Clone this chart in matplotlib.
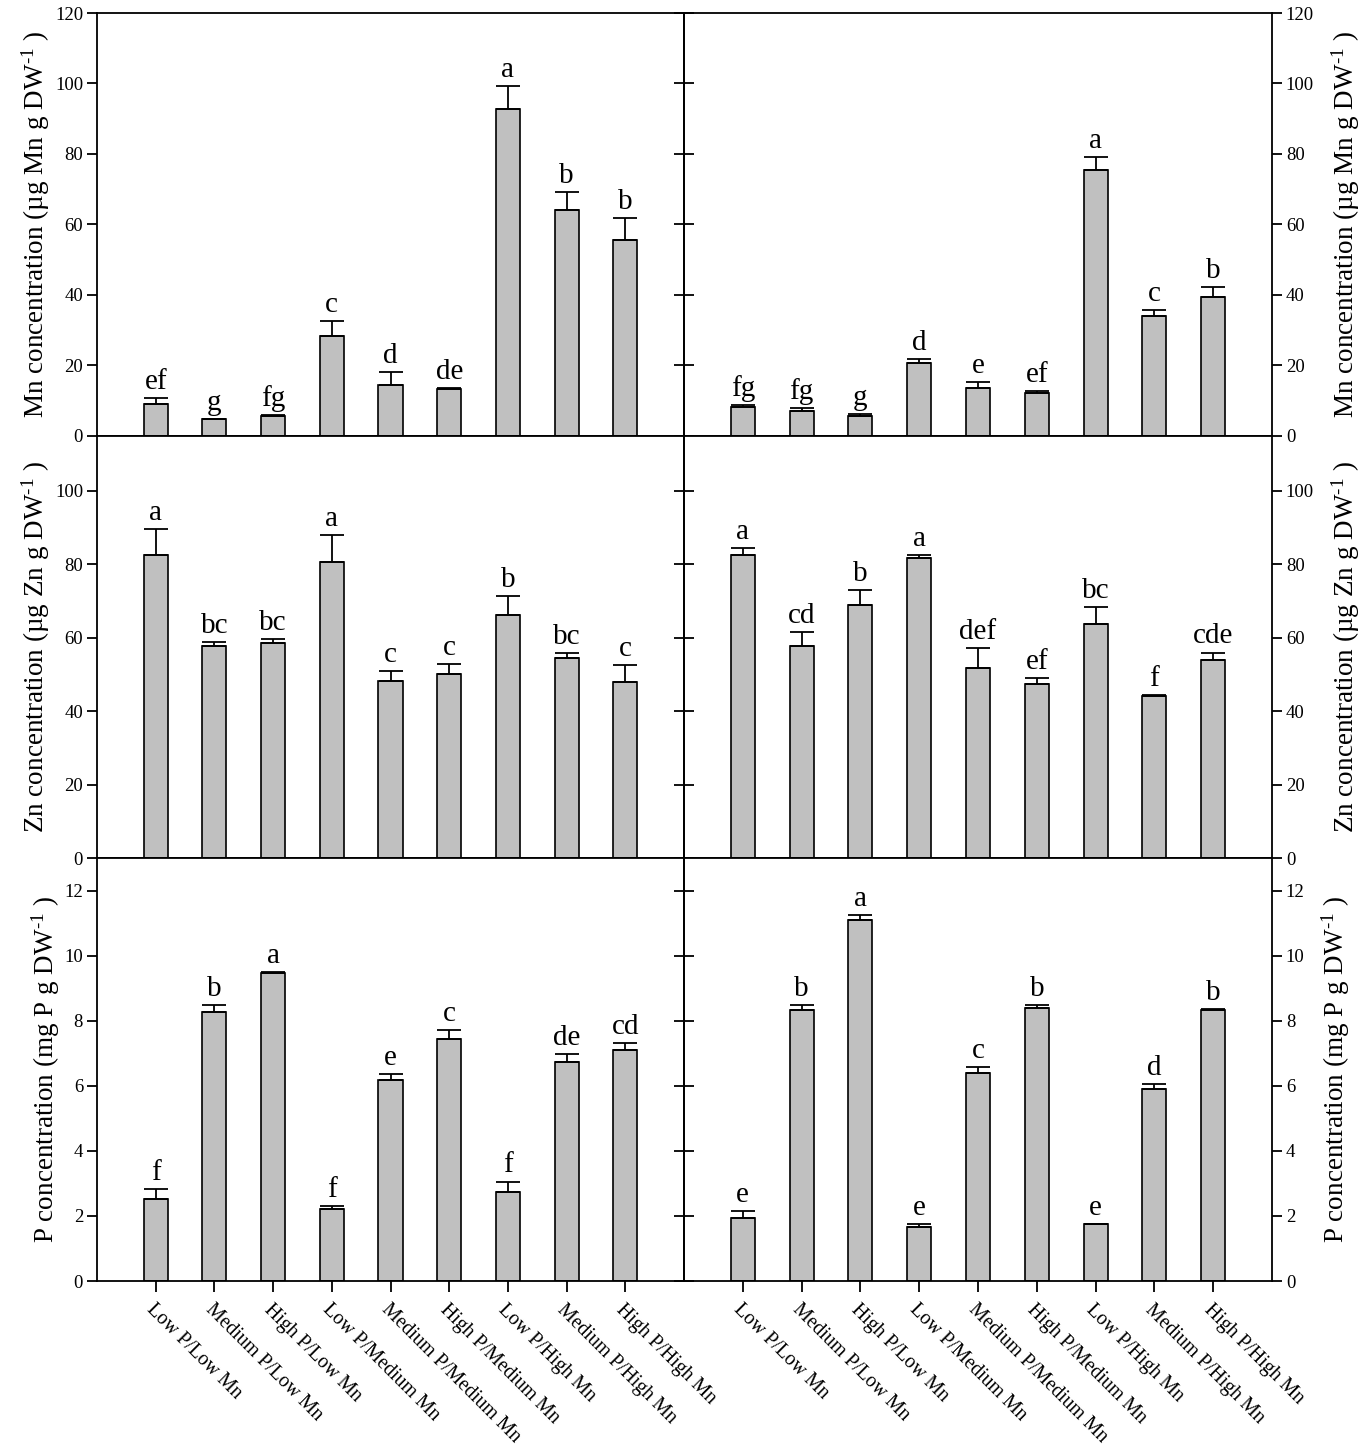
import matplotlib
matplotlib.use('Agg')
import matplotlib.pyplot as plt
import numpy as np

plt.rcParams['font.family'] = ['Liberation Serif', 'DejaVu Serif']
plt.rcParams['mathtext.fontset'] = 'custom'
plt.rcParams['mathtext.rm'] = 'Liberation Serif'
plt.rcParams['mathtext.it'] = 'Liberation Serif:italic'
plt.rcParams['mathtext.bf'] = 'Liberation Serif:bold'

categories = ["Low P/Low Mn", "Medium P/Low Mn", "High P/Low Mn",
              "Low P/Medium Mn", "Medium P/Medium Mn", "High P/Medium Mn",
              "Low P/High Mn", "Medium P/High Mn", "High P/High Mn"]

mn_left = [8.9, 4.6, 5.7, 28.4, 14.5, 13.2, 92.8, 64.0, 55.5]
mn_left_err = [1.8, 0.2, 0.2, 4.1, 3.5, 0.4, 6.6, 5.3, 6.2]
mn_left_letters = ["ef", "g", "fg", "c", "d", "de", "a", "b", "b"]
mn_right = [8.1, 7.0, 5.6, 20.7, 13.6, 12.0, 75.4, 34.0, 39.5]
mn_right_err = [0.7, 0.8, 0.6, 1.2, 1.7, 0.6, 3.8, 1.7, 2.6]
mn_right_letters = ["fg", "fg", "g", "d", "e", "ef", "a", "c", "b"]

zn_left = [82.5, 57.7, 58.7, 80.7, 48.2, 50.2, 66.2, 54.5, 48.1]
zn_left_err = [7.1, 1.2, 1.0, 7.2, 2.7, 2.8, 5.2, 1.4, 4.5]
zn_left_letters = ["a", "bc", "bc", "a", "c", "c", "b", "bc", "c"]
zn_right = [82.4, 57.9, 69.0, 81.6, 51.9, 47.4, 63.7, 44.3, 54.0]
zn_right_err = [2.1, 3.6, 3.9, 1.0, 5.3, 1.6, 4.8, 0.2, 2.0]
zn_right_letters = ["a", "cd", "b", "a", "def", "ef", "bc", "f", "cde"]

p_left = [2.53, 8.28, 9.48, 2.20, 6.18, 7.45, 2.75, 6.74, 7.09]
p_left_err = [0.29, 0.20, 0.02, 0.10, 0.19, 0.28, 0.31, 0.24, 0.23]
p_left_letters = ["f", "b", "a", "f", "e", "c", "f", "de", "cd"]
p_right = [1.93, 8.35, 11.11, 1.66, 6.39, 8.40, 1.75, 5.89, 8.35]
p_right_err = [0.21, 0.15, 0.15, 0.09, 0.19, 0.08, 0.01, 0.18, 0.02]
p_right_letters = ["e", "b", "a", "e", "c", "b", "e", "d", "b"]

ylabels = [r"Mn concentration (µg Mn g DW$^{\text{-1}}$ )",
           r"Zn concentration (µg Zn g DW$^{\text{-1}}$ )",
           r"P concentration (mg P g DW$^{\text{-1}}$ )"]
ylims = [(0, 120), (0, 115), (0, 13)]
yticks = [np.arange(0, 121, 20), np.arange(0, 101, 20), np.arange(0, 13, 2)]

data = [
    [(mn_left, mn_left_err, mn_left_letters), (mn_right, mn_right_err, mn_right_letters)],
    [(zn_left, zn_left_err, zn_left_letters), (zn_right, zn_right_err, zn_right_letters)],
    [(p_left, p_left_err, p_left_letters), (p_right, p_right_err, p_right_letters)],
]

W, H = 1370, 1452
fig = plt.figure(figsize=(W / 100, H / 100), dpi=100)

col_x = [(97, 684), (684, 1272)]
row_top = 13
row_h = (1281 - 13) / 3.0

x = np.arange(1, 10)
lw = 1.3

for r in range(3):
    for c in range(2):
        x0, x1 = col_x[c]
        top = row_top + r * row_h
        ax = fig.add_axes([x0 / W, 1 - (top + row_h) / H, (x1 - x0) / W, row_h / H])
        vals, errs, letters = data[r][c]
        ax.bar(x, vals, width=0.41, color='#c0c0c0', edgecolor='black',
               linewidth=1.2, zorder=2)
        ax.errorbar(x, vals, yerr=[np.zeros(len(errs)), errs], fmt='none',
                    ecolor='black', elinewidth=1.3, capsize=8.5, capthick=1.3, zorder=3)
        for xi, v, e, lab in zip(x, vals, errs, letters):
            ax.annotate(lab, (xi, v + e), xytext=(0, 6.5), textcoords='offset points',
                        ha='center', va='baseline', fontsize=21)
        ax.set_xlim(0, 10)
        ax.set_ylim(*ylims[r])
        ax.set_yticks(yticks[r])
        for s in ax.spines.values():
            s.set_linewidth(lw)
        inner = 'right' if c == 0 else 'left'
        if c == 0:
            ax.tick_params(axis='y', left=True, right=False, labelleft=True,
                           labelright=False, direction='out', length=7, width=lw,
                           labelsize=13.5, pad=3)
            ax.set_ylabel(ylabels[r], fontsize=19.5, labelpad=2)
        else:
            ax.yaxis.tick_right()
            ax.tick_params(axis='y', left=False, right=True, labelleft=False,
                           labelright=True, direction='out', length=7, width=lw,
                           labelsize=13.5, pad=3)
            ax.yaxis.set_label_position('right')
            ax.set_ylabel(ylabels[r], fontsize=19.5, labelpad=11)
        sec = ax.secondary_yaxis(inner)
        sec.set_yticks(yticks[r])
        sec.tick_params(axis='y', direction='in', length=7, width=lw,
                        labelleft=False, labelright=False)
        sec.spines[inner].set_linewidth(lw)
        if r == 2:
            ax.set_xticks(x)
            ax.set_xticklabels(categories, rotation=-45, ha='left', va='top',
                               rotation_mode='anchor', fontsize=14.2)
            ax.tick_params(axis='x', direction='out', length=8, width=lw, pad=6)
        else:
            ax.set_xticks([])

fig.savefig('out.png', dpi=100)
